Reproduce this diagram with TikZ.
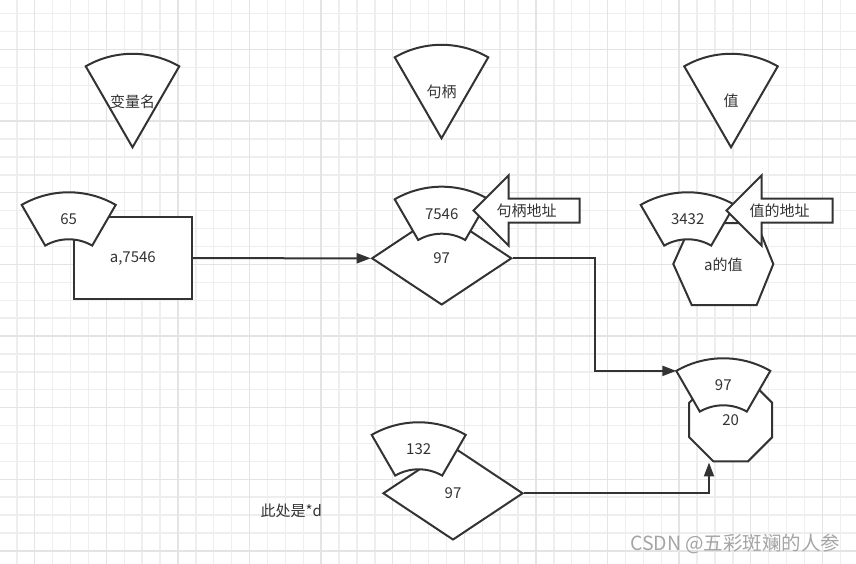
\documentclass[tikz,border=0pt]{standalone}
\usepackage{fontspec}
\usetikzlibrary{arrows.meta,shapes.geometric}
\newfontfamily\cjk{Noto Sans CJK SC}
\definecolor{LineGray}{RGB}{51,51,51}
\definecolor{GridMinor}{RGB}{238,238,238}
\definecolor{GridMajor}{RGB}{228,228,228}
\definecolor{MarkGray}{RGB}{165,165,165}

\begin{document}
\begin{tikzpicture}[x=1pt,y=1pt,yscale=-1,
    shp/.style={draw=LineGray,line width=2pt,fill=white},
    lbl/.style={font=\cjk\fontsize{15}{18}\selectfont,text=LineGray,inner sep=0pt},
    arr/.style={draw=LineGray,line width=2pt,-{Triangle[length=14pt,width=10pt]}},
    gridminor/.style={draw=GridMinor,line width=1.4pt},
    gridmajor/.style={draw=GridMajor,line width=1.4pt},
    wedge/.pic={\draw[shp] (0,0) -- (60:93.5) arc[start angle=60,end angle=120,radius=93.5] -- cycle;
      \node[lbl] (-t) at (0,46) {#1};},
    ring/.pic={\draw[shp] (60:94) arc[start angle=60,end angle=120,radius=94] -- (120:47) arc[start angle=120,end angle=60,radius=47] -- cycle;
      \coordinate (-w) at (120:94);
      \node[lbl] (-t) at (0,67) {#1};},
    barrow/.pic={\draw[shp] (-53,0) -- (-18,-35) -- (-18,-12) -- (53,-12) -- (53,12) -- (-18,12) -- (-18,35) -- cycle;
      \node[lbl] (-t) at (0,0) {#1};}]
  \useasboundingbox (0,0) rectangle (856,564);
  \fill[white] (0,0) rectangle (856,564);
  \foreach \k in {-1,...,45} \draw[gridminor] ({34.7+17.9*\k},0) -- ++(0,564);
  \foreach \k in {-2,...,28} \draw[gridminor] (0,{49.6+17.9*\k}) -- ++(856,0);
  \foreach \k in {0,4,...,44} \draw[gridmajor] ({34.7+17.9*\k},0) -- ++(0,564);
  \foreach \k in {0,4,...,28} \draw[gridmajor] (0,{49.6+17.9*\k}) -- ++(856,0);

  \pic (name) at (132.5,147.3) {wedge=变量名};
  \pic (handle) at (441.5,138.3) {wedge=句柄};
  \pic (value) at (731,147.3) {wedge=值};

  \node[shp,lbl,minimum width=117.7pt,minimum height=81.7pt] (rect) at (132.8,258.2) {a,7546};
  \pic (r65) at (68.7,286.3) {ring=65};

  \node[shp,lbl,diamond,minimum width=140pt,minimum height=93.3pt] (dmid) at (441.7,258.3) {97};
  \pic (r7546) at (441.7,280.7) {ring=7546};
  \pic (haddr) at (526.5,210.5) {barrow=句柄地址};

  \draw[shp] (673.3,264) -- (691.7,223) -- (756.7,223) -- (773.3,264) -- (756.7,305) -- (691.7,305) -- cycle;
  \node[lbl] (hex) at (723.3,264.5) {a的值};
  \pic (r3432) at (687.7,286.3) {ring=3432};
  \pic (vaddr) at (779.5,210.5) {barrow=值的地址};

  \node[shp,lbl,regular polygon,regular polygon sides=8,minimum size=89.8pt] (oct) at (730.7,420) {20};
  \pic (r97) at (723.3,452.3) {ring=97};

  \node[shp,lbl,diamond,minimum width=140pt,minimum height=93.3pt] (dlow) at (453,493.3) {97};
  \pic (r132) at (418.7,516.3) {ring=132};

  \node[lbl] (note) at (291.3,511) {此处是*d};
  \node[font=\cjk\fontsize{19.5}{22}\selectfont,text=MarkGray] (mark) at (735.3,544) {CSDN @五彩斑斓的人参};

  \draw[arr] (rect) -- (dmid);
  \draw[arr] (dmid.east) -- ++(82.3,0) |- (r97-w);
  \draw[arr] (dlow.east) -| ([xshift=-21.7pt]oct.south);
\end{tikzpicture}
\end{document}
